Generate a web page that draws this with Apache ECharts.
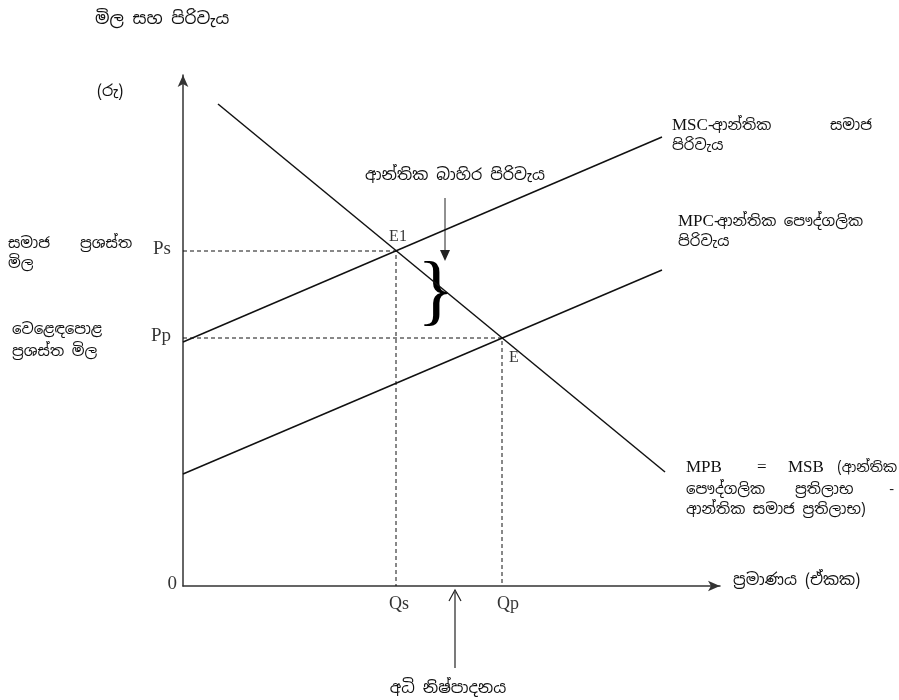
<!DOCTYPE html>
<html>
<head>
<meta charset="utf-8">
<script src="https://cdn.jsdelivr.net/npm/echarts@6/dist/echarts.min.js"></script>
<style>
  html, body { margin: 0; padding: 0; background: #fff; }
  #main { width: 899px; height: 700px; }
</style>
</head>
<body>
<div id="main"></div>
<script>
// කර්ව (ප්‍රමාණය, මිල) - පික්සල් වලින් කියවූ අගයන්
var demandLine = [[35, 482], [482, 114]];   // MPB = MSB
var mscLine = [[0, 244], [479, 449]];       // MSC
var mpcLine = [[0, 112], [479, 316]];       // MPC

// සමතුලිත ලක්ෂ්‍ය
var eqNames = ['E1', 'E'];
var eqQ = [213, 319];
var eqP = [335, 248];

// අක්ෂ ලේබල
var xTickNames = ['Qs', 'Qp'];
var yTickNames = ['0', 'Ps', 'Pp'];
var yTickValues = [0, 335, 248];

var serif = '"Liberation Serif", "Times New Roman", serif';
var sinhala = '"Noto Sans Sinhala", "Noto Sans", sans-serif';

var chart = echarts.init(document.getElementById('main'));

function lineSeries(name, pts, dashed) {
  return {
    name: name,
    type: 'line',
    data: pts,
    symbol: 'none',
    silent: true,
    lineStyle: { color: '#111', width: dashed ? 1 : 1.5, type: dashed ? [4, 3] : 'solid' },
    z: dashed ? 2 : 3
  };
}

var series = [
  lineSeries('MPB', demandLine),
  lineSeries('MSC', mscLine),
  lineSeries('MPC', mpcLine)
];

// තිත් රේඛා: මිල අක්ෂයේ සිට ලක්ෂ්‍යයට, පසුව ප්‍රමාණ අක්ෂයට
for (var i = 0; i < eqQ.length; i++) {
  series.push(lineSeries('dash' + i, [[0, eqP[i]], [eqQ[i], eqP[i]], [eqQ[i], 0]], true));
}

// E1, E ලේබල
series.push({
  type: 'scatter',
  symbolSize: 0,
  silent: true,
  data: eqQ.map(function (q, i) {
    return {
      value: [q, eqP[i]],
      name: eqNames[i],
      label: i === 0
        ? { position: 'top', distance: 6, offset: [2, 0] }
        : { position: 'bottom', distance: 12, offset: [12, 0] }
    };
  }),
  label: { show: true, formatter: '{b}', color: '#000', fontFamily: serif, fontSize: 16 }
});

// Qs, Qp
series.push({
  type: 'scatter',
  symbolSize: 0,
  silent: true,
  data: eqQ.map(function (q, i) { return { value: [q, 0], name: xTickNames[i], label: { offset: [i === 0 ? 3 : 6, 0] } }; }),
  label: { show: true, position: 'bottom', distance: 9, formatter: '{b}', color: '#000', fontFamily: serif, fontSize: 18 }
});

// 0, Ps, Pp
series.push({
  type: 'scatter',
  symbolSize: 0,
  silent: true,
  data: yTickValues.map(function (p, i) {
    return { value: [0, p], name: yTickNames[i], label: { distance: i === 0 ? 6 : 12, offset: [0, i === 0 ? -2 : -2] } };
  }),
  label: { show: true, position: 'left', formatter: '{b}', color: '#000', fontFamily: serif, fontSize: 19 }
});

function txt(x, y, s, opt) {
  opt = opt || {};
  return {
    type: 'text', x: x, y: y, silent: true,
    style: {
      text: s, fill: '#111',
      font: (opt.size || 15) + 'px ' + (opt.font || sinhala),
      textAlign: opt.align || 'left', textVerticalAlign: 'middle'
    }
  };
}

var graphics = [
  txt(95, 19, 'මිල සහ පිරිවැය', { size: 17 }),
  txt(97, 92, '(රු)', { size: 16 }),
  txt(8, 244, 'සමාජ'),
  txt(80, 244, 'ප්‍රශස්ත'),
  txt(8, 264, 'මිල'),
  txt(12, 330, 'වෙළෙඳපොළ'),
  txt(12, 352, 'ප්‍රශස්ත මිල'),
  txt(455, 176, 'ආන්තික බාහිර පිරිවැය', { size: 16, align: 'center' }),
  txt(672, 126, 'MSC-', { font: serif, size: 17 }),
  txt(712, 126, 'ආන්තික'),
  txt(830, 126, 'සමාජ'),
  txt(672, 146, 'පිරිවැය'),
  txt(678, 222, 'MPC-', { font: serif, size: 17 }),
  txt(717, 222, 'ආන්තික පෞද්ගලික'),
  txt(678, 242, 'පිරිවැය'),
  txt(686, 468, 'MPB', { font: serif, size: 17 }),
  txt(757, 468, '=', { font: serif, size: 17 }),
  txt(788, 468, 'MSB', { font: serif, size: 17 }),
  txt(897, 468, '(ආන්තික', { align: 'right', size: 14 }),
  txt(686, 490, 'පෞද්ගලික'),
  txt(795, 490, 'ප්‍රතිලාභ'),
  txt(894, 490, '-', { align: 'right' }),
  txt(686, 510, 'ආන්තික සමාජ ප්‍රතිලාභ)'),
  txt(733, 581, 'ප්‍රමාණය (ඒකක)', { size: 16 }),
  txt(448, 689, 'අධි නිෂ්පාදනය', { size: 16, align: 'center' }),
  // brace
  {
    type: 'text', x: 436, y: 296, silent: true,
    style: { text: '}', fill: '#000', font: '78px ' + serif, textAlign: 'center', textVerticalAlign: 'middle' }
  },
  // arrow to brace
  { type: 'line', silent: true, shape: { x1: 445, y1: 198, x2: 445, y2: 252 }, style: { stroke: '#222', lineWidth: 1 } },
  { type: 'polygon', silent: true, shape: { points: [[440, 250], [450, 250], [445, 261]] }, style: { fill: '#222' } },
  // arrow from bottom label
  { type: 'line', silent: true, shape: { x1: 455, y1: 668, x2: 455, y2: 592 }, style: { stroke: '#222', lineWidth: 1.2 } },
  { type: 'polyline', silent: true, shape: { points: [[449, 601], [455, 590], [461, 601]] }, style: { stroke: '#222', lineWidth: 1.2, fill: null } }
];

var option = {
  animation: false,
  backgroundColor: '#fff',
  grid: { left: 183, top: 75, width: 537, height: 511, containLabel: false },
  xAxis: {
    type: 'value', min: 0, max: 537,
    axisLine: { show: true, symbol: ['none', 'arrow'], symbolSize: [8, 12], lineStyle: { color: '#333', width: 1.5 } },
    axisTick: { show: false }, axisLabel: { show: false }, splitLine: { show: false }
  },
  yAxis: {
    type: 'value', min: 0, max: 511,
    axisLine: { show: true, symbol: ['none', 'arrow'], symbolSize: [8, 12], lineStyle: { color: '#333', width: 1.5 } },
    axisTick: { show: false }, axisLabel: { show: false }, splitLine: { show: false }
  },
  series: series,
  graphic: graphics
};

chart.setOption(option);
</script>
</body>
</html>
